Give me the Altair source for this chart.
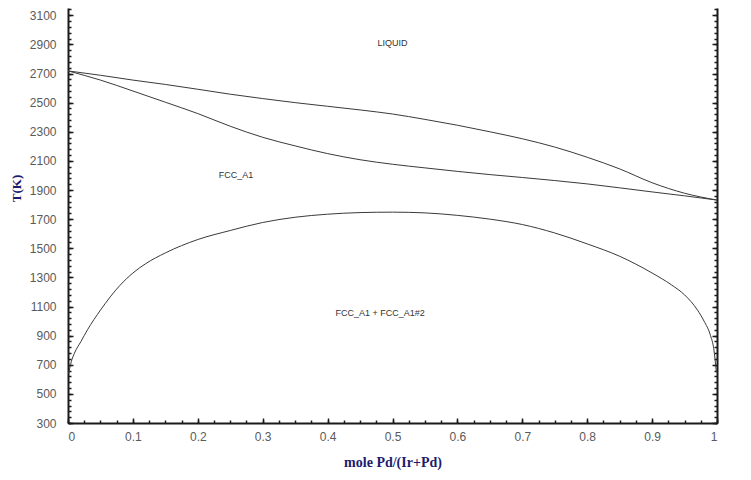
import altair as alt
import pandas as pd

# ---- data ----
liq_x = [0.0, 0.05, 0.1, 0.15, 0.2, 0.25, 0.3, 0.35, 0.4, 0.45, 0.5, 0.55, 0.6, 0.65, 0.7, 0.75, 0.8, 0.85, 0.9, 0.95, 1.0]
liq_T = [2718, 2688, 2655, 2625, 2592, 2558, 2528, 2500, 2475, 2450, 2422, 2385, 2345, 2300, 2252, 2195, 2125, 2045, 1950, 1878, 1831]

sol_x = [0.0, 0.05, 0.1, 0.15, 0.2, 0.25, 0.3, 0.35, 0.4, 0.45, 0.5, 0.55, 0.6, 0.65, 0.7, 0.75, 0.8, 0.85, 0.9, 0.95, 1.0]
sol_T = [2718, 2655, 2580, 2503, 2425, 2338, 2262, 2203, 2150, 2108, 2077, 2052, 2028, 2006, 1986, 1965, 1942, 1915, 1887, 1860, 1831]

gap_x = [0.001, 0.005, 0.01, 0.02, 0.03, 0.05, 0.08, 0.1, 0.12, 0.15, 0.2, 0.25, 0.3, 0.35, 0.4, 0.45, 0.5,
         0.55, 0.6, 0.65, 0.7, 0.75, 0.8, 0.85, 0.9, 0.93, 0.95, 0.97, 0.98, 0.99, 0.995, 0.999]
gap_T = [640, 720, 780, 860, 940, 1075, 1245, 1330, 1395, 1468, 1560, 1622, 1677, 1713, 1734, 1745, 1748,
         1743, 1726, 1700, 1663, 1605, 1530, 1445, 1330, 1248, 1180, 1075, 1000, 900, 810, 650]

label_text = ["LIQUID", "FCC_A1", "FCC_A1 + FCC_A1#2"]
label_x = [0.5, 0.259, 0.481]
label_T = [2909, 2002, 1053]

x_major = [0, 0.1, 0.2, 0.3, 0.4, 0.5, 0.6, 0.7, 0.8, 0.9, 1]
x_minor = [round(i * 0.025, 3) for i in range(41)]
y_major = list(range(300, 3101, 200))
y_minor = list(range(300, 3141, 40))

# ---- build tables ----
rows = []
for name, xs, ts in [("liquidus", liq_x, liq_T), ("solidus", sol_x, sol_T), ("gap", gap_x, gap_T)]:
    for i, (a, b) in enumerate(zip(xs, ts)):
        rows.append({"curve": name, "order": i, "x": a, "T": b})
df = pd.DataFrame(rows)
labels = pd.DataFrame({"text": label_text, "x": label_x, "T": label_T})

XS = alt.Scale(domain=[0, 1], nice=False, zero=False)
YS = alt.Scale(domain=[300, 3150], nice=False, zero=False)

LINE = "#3a3a3a"
AX = "#1a1a1a"
LBL = dict(labelFont="Liberation Sans", labelFontSize=12, labelColor="#5a5a5a")


def ax(orient, values, size, offset, labels=False, fmt=None, **kw):
    d = dict(orient=orient, values=values, tickSize=size, offset=offset, domain=False,
             grid=False, labels=labels, ticks=True, tickColor=AX, tickWidth=1.5, title=None)
    if fmt:
        d["format"] = fmt
    d.update(kw)
    return alt.Axis(**d)


def dom(orient):
    return alt.Axis(orient=orient, domain=True, domainColor=AX, domainWidth=2, ticks=False,
                    labels=False, grid=False, title=None, offset=0)


base = alt.Chart(df)

lines = base.mark_line(color=LINE, strokeWidth=1, interpolate="monotone").encode(
    x=alt.X("x:Q", scale=XS, axis=ax("bottom", x_major, 5, -5, labels=True, fmt="~g",
                                      labelPadding=8, title="mole Pd/(Ir+Pd)",
                                      titleFont="Liberation Serif", titleFontSize=14,
                                      titleFontWeight="bold", titleColor="#1c1c6e",
                                      titleBaseline="middle", titleY=44, **LBL)),
    y=alt.Y("T:Q", scale=YS, axis=ax("left", y_major, 5, -5, labels=True, fmt="d",
                                      labelPadding=12, title="T(K)",
                                      titleFont="Liberation Serif", titleFontSize=13,
                                      titleFontWeight="bold", titleColor="#1c1c6e",
                                      titleAngle=270, titleBaseline="middle", titleAlign="center",
                                      titleX=-57, titleY=180, **LBL)),
    detail="curve:N",
    order="order:Q",
)

minor = base.mark_line(strokeOpacity=0).encode(
    x=alt.X("x:Q", scale=XS, axis=ax("bottom", x_minor, 3, -3)),
    y=alt.Y("T:Q", scale=YS, axis=ax("left", y_minor, 3, -3)),
    detail="curve:N", order="order:Q",
)

right_major = base.mark_line(strokeOpacity=0).encode(
    x=alt.X("x:Q", scale=XS, axis=dom("bottom")),
    y=alt.Y("T:Q", scale=YS, axis=ax("right", y_major, 5, -5)),
    detail="curve:N", order="order:Q",
)

right_minor = base.mark_line(strokeOpacity=0).encode(
    x=alt.X("x:Q", scale=XS, axis=None),
    y=alt.Y("T:Q", scale=YS, axis=ax("right", y_minor, 3, -3)),
    detail="curve:N", order="order:Q",
)

left_dom = base.mark_line(strokeOpacity=0).encode(
    x=alt.X("x:Q", scale=XS, axis=None),
    y=alt.Y("T:Q", scale=YS, axis=dom("left")),
    detail="curve:N", order="order:Q",
)

right_dom = base.mark_line(strokeOpacity=0).encode(
    x=alt.X("x:Q", scale=XS, axis=None),
    y=alt.Y("T:Q", scale=YS, axis=dom("right")),
    detail="curve:N", order="order:Q",
)

texts = alt.Chart(labels).mark_text(font="Liberation Sans", fontSize=9, color="#333333").encode(
    x=alt.X("x:Q", scale=XS, axis=None),
    y=alt.Y("T:Q", scale=YS, axis=None),
    text="text:N",
)

chart = alt.layer(lines, minor, right_major, right_minor, left_dom, right_dom, texts).resolve_scale(
    x="independent", y="independent"
).properties(
    width=649, height=415,
    autosize=alt.AutoSizeParams(type="none"),
    padding={"left": 60, "top": 0, "right": 26, "bottom": 49},
    background="white",
).configure_view(stroke=None)

chart.save("out.html", embed_options={"renderer": "svg", "actions": False})
